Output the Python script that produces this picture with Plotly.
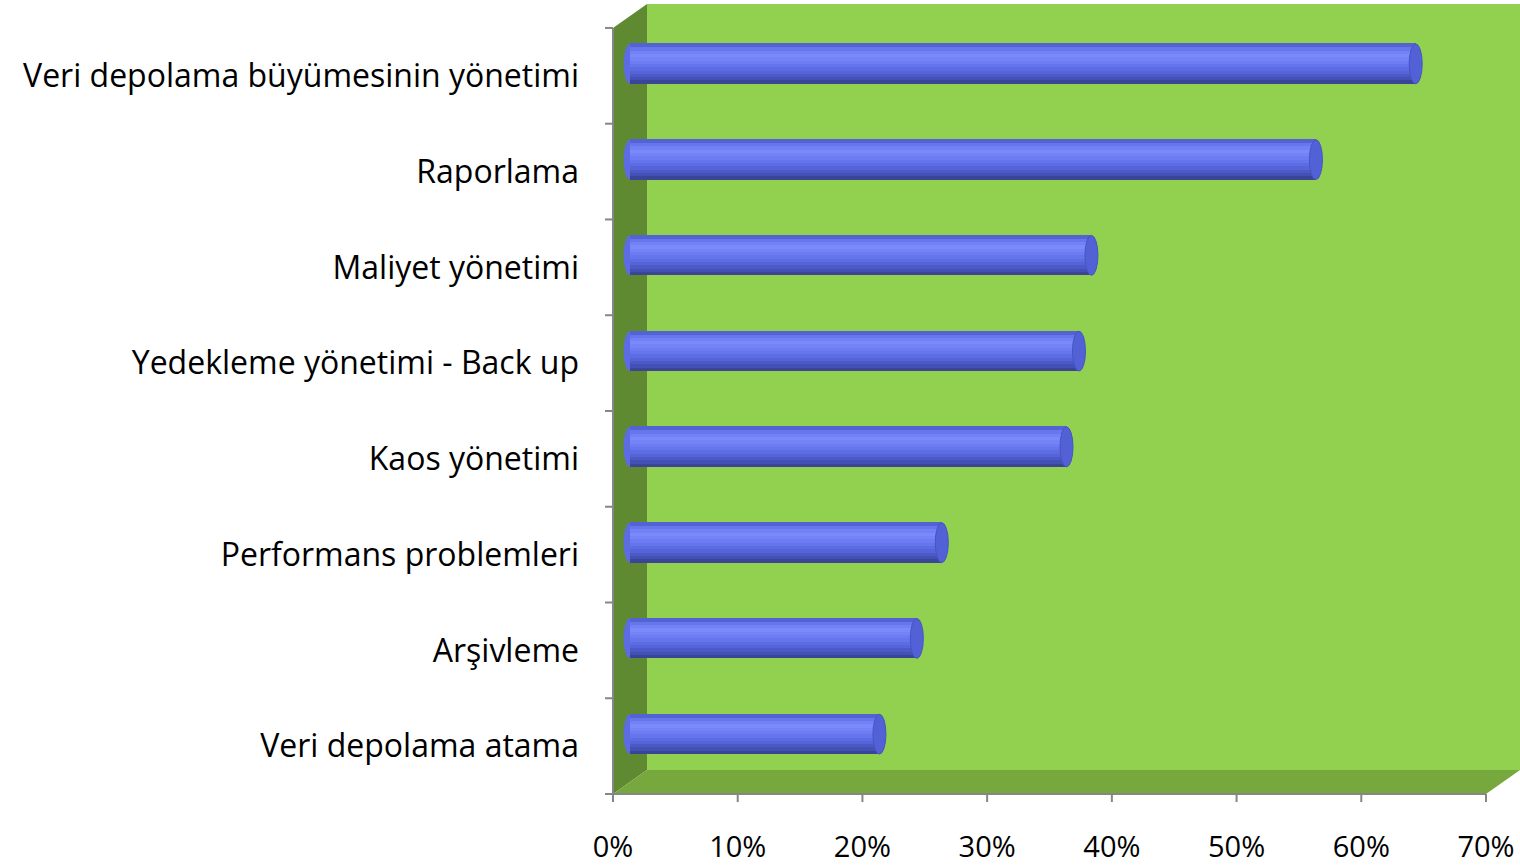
"""3D-style horizontal cylinder bar chart (Excel look) rebuilt with plotly."""
import plotly.graph_objects as go

CATEGORIES = [
  "Veri depolama büyümesinin yönetimi",
  "Raporlama",
  "Maliyet yönetimi",
  "Yedekleme yönetimi - Back up",
  "Kaos yönetimi",
  "Performans problemleri",
  "Arşivleme",
  "Veri depolama atama",
]
VALUES = [63, 55, 37, 36, 35, 25, 23, 20]
X_TICKS = [0, 10, 20, 30, 40, 50, 60, 70]
X_TICK_LABELS = ["0%", "10%", "20%", "30%", "40%", "50%", "60%", "70%"]

# geometry (pixels -> data units)
PX_PER_PCT = (1486 - 613) / 70
PX_PER_CAT = 96
DX = 34 / PX_PER_PCT      # depth offset along x
DY = 24 / PX_PER_CAT      # depth offset along y
BAR_H = 40 / PX_PER_CAT
CAP_W = 6.5 / PX_PER_PCT
X_MAX = X_TICKS[-1]

BACK_WALL = "#92d050"
SIDE_WALL = "#5f8a31"
FLOOR = "#76a83e"
AXIS = "#868686"
CAP = "#5262d6"
# cylinder shading, bottom -> top
SHADES = ["#3a4598", "#4350b4", "#4c5ac8", "#5664da", "#5e6ce4", "#6575ec",
          "#6c7cf2", "#7484f8", "#7a8afa", "#7282f6", "#6676ec", "#5463d4"]

n = len(CATEGORIES)
pos = [n - 1 - i for i in range(n)]
y_lo, y_hi = -0.5, n - 0.5

fig = go.Figure()

strip = BAR_H / len(SHADES)
for k, color in enumerate(SHADES):
  fig.add_trace(go.Bar(
    x=VALUES, y=[p + DY / 2 for p in pos], base=DX / 2,
    orientation="h", width=strip * 1.15, offset=-BAR_H / 2 + k * strip,
    marker=dict(color=color, line=dict(width=0)),
    showlegend=False, hoverinfo="skip" if k else None,
    hovertemplate="%{text}: %{x}%<extra></extra>" if not k else None,
    text=CATEGORIES if not k else None, textposition="none",
  ))

shapes = [
  # back wall
  dict(type="rect", x0=DX, x1=X_MAX + DX, y0=y_lo + DY, y1=y_hi + DY,
       fillcolor=BACK_WALL, line=dict(width=0), layer="below"),
  # left side wall
  dict(type="path", path=f"M 0 {y_lo} L 0 {y_hi} L {DX} {y_hi + DY} L {DX} {y_lo + DY} Z",
       fillcolor=SIDE_WALL, line=dict(width=0), layer="below"),
  # floor
  dict(type="path", path=f"M 0 {y_lo} L {X_MAX} {y_lo} L {X_MAX + DX} {y_lo + DY} L {DX} {y_lo + DY} Z",
       fillcolor=FLOOR, line=dict(width=0), layer="below"),
]

for p, v in zip(pos, VALUES):
  yc = p + DY / 2
  # rounded left end (behind body)
  shapes.append(dict(type="circle", x0=DX / 2 - CAP_W, x1=DX / 2 + CAP_W,
                     y0=yc - BAR_H / 2, y1=yc + BAR_H / 2,
                     fillcolor="#5d6ce2", line=dict(width=0), layer="below"))
  # right end cap
  xe = v + DX / 2
  shapes.append(dict(type="circle", x0=xe - CAP_W, x1=xe + CAP_W,
                     y0=yc - BAR_H / 2, y1=yc + BAR_H / 2,
                     fillcolor=CAP, line=dict(width=1, color="#4654c2"), layer="above"))

# axis lines and tick marks
shapes.append(dict(type="line", x0=0, x1=0, y0=y_lo, y1=y_hi,
                   line=dict(color=AXIS, width=2), layer="above"))
shapes.append(dict(type="line", x0=0, x1=X_MAX, y0=y_lo, y1=y_lo,
                   line=dict(color=AXIS, width=2), layer="above"))
tick_x = 8 / PX_PER_PCT
tick_y = 8 / PX_PER_CAT
for k in range(n + 1):
  b = y_lo + k
  shapes.append(dict(type="line", x0=-tick_x, x1=0, y0=b, y1=b,
                     line=dict(color=AXIS, width=2), layer="above"))
for t in X_TICKS:
  shapes.append(dict(type="line", x0=t, x1=t, y0=y_lo, y1=y_lo - tick_y,
                     line=dict(color=AXIS, width=2), layer="above"))

x_min = -13 / PX_PER_PCT
fig.update_layout(
  width=1520, height=865,
  margin=dict(l=600, r=0, t=4, b=59),
  paper_bgcolor="white", plot_bgcolor="rgba(0,0,0,0)",
  barmode="overlay", bargap=0,
  shapes=shapes,
  font=dict(family="Open Sans, Calibri, sans-serif", size=32, color="black"),
  showlegend=False,
)
fig.update_xaxes(
  range=[x_min, X_MAX + DX], tickvals=X_TICKS, ticktext=X_TICK_LABELS,
  showgrid=False, zeroline=False, showline=False, ticks="",
  ticklabelstandoff=23, fixedrange=True,
  tickfont=dict(size=29),
)
fig.update_yaxes(
  range=[y_lo - 10 / PX_PER_CAT, y_hi + DY], tickvals=pos, ticktext=CATEGORIES,
  showgrid=False, zeroline=False, showline=False, ticks="",
  ticklabelstandoff=20, fixedrange=True,
)

fig.write_html("out.html", config={"displayModeBar": False},
               post_script="document.body.style.margin='0';")
